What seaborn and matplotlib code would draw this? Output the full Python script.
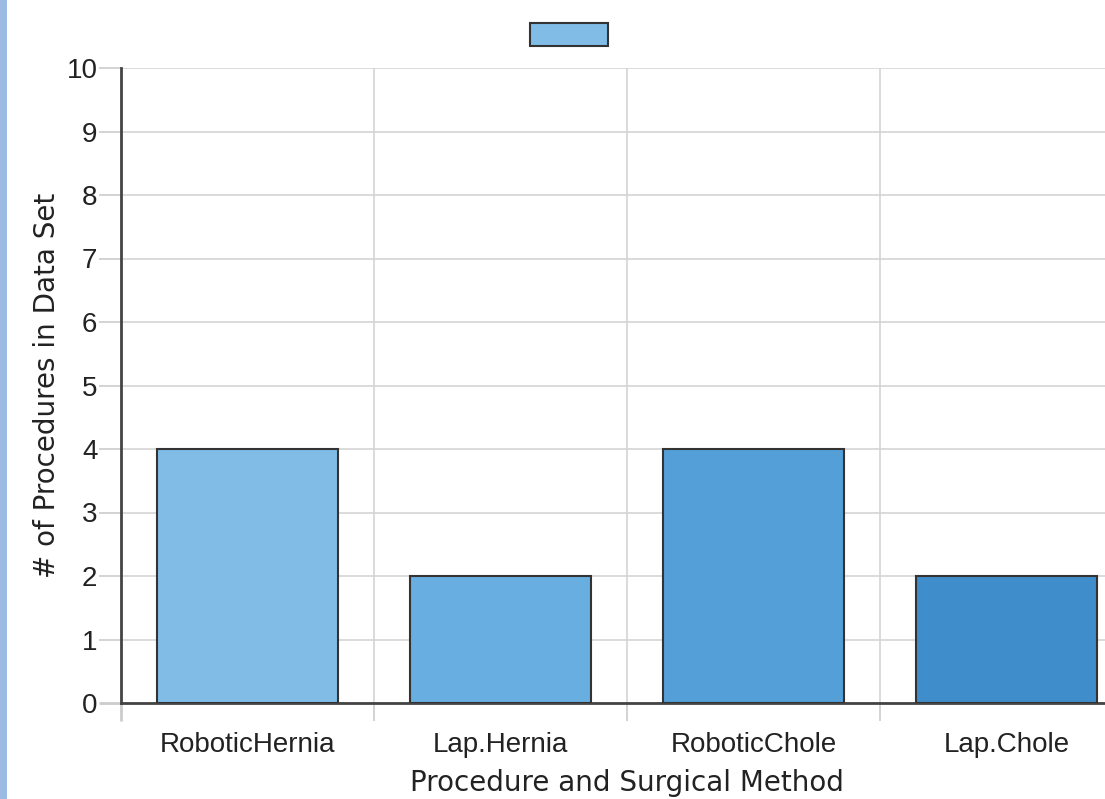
import matplotlib
matplotlib.use("Agg")
import matplotlib.pyplot as plt
import matplotlib.patches as mpatches
import seaborn as sns
import pandas as pd

procedures = ["RoboticHernia", "Lap.Hernia", "RoboticChole", "Lap.Chole"]
counts = [4, 2, 4, 2]
bar_colors = ["#80bce6", "#68aee0", "#559fd8", "#3f8dca"]

df = pd.DataFrame({"Procedure": procedures, "Count": counts})

sns.set_style("white")
plt.rcParams["font.family"] = ["Liberation Sans", "DejaVu Sans"]

fig = plt.figure(figsize=(11.05, 7.99), dpi=100)
ax = fig.add_axes([121 / 1105, 96 / 799, 1012 / 1105, 635 / 799])

sns.barplot(data=df, x="Procedure", y="Count", hue="Procedure", palette=bar_colors,
            saturation=1, width=0.715, edgecolor="#333333", linewidth=1.5,
            legend=False, ax=ax, zorder=3)

ax.set_xlim(-0.5, 3.5)
ax.set_ylim(0, 10)
ax.set_yticks(range(0, 11))

# grid: horizontal at every integer, vertical at category boundaries
ax.set_xticks([-0.5, 0.5, 1.5, 2.5, 3.5], minor=True)
ax.grid(False)
ax.yaxis.grid(True, color="#d4d4d4", lw=1.2, zorder=0)
ax.xaxis.grid(True, which="minor", color="#d4d4d4", lw=1.2, zorder=0)
ax.set_axisbelow(True)

ax.tick_params(axis="x", which="major", bottom=False, length=0, pad=21, labelsize=20,
               labelcolor="#222222")
ax.tick_params(axis="x", which="minor", bottom=True, length=13, width=1.2,
               color="#cccccc", direction="out")
ax.tick_params(axis="y", left=True, length=16, width=1.2, color="#cccccc",
               direction="out", pad=1, labelsize=20, labelcolor="#222222")

for s in ["top", "right"]:
    ax.spines[s].set_visible(False)
for s in ["left", "bottom"]:
    ax.spines[s].set_color("#444444")
    ax.spines[s].set_linewidth(2)

ax.set_xlabel("Procedure and Surgical Method", family="DejaVu Sans", fontsize=20,
              labelpad=8, color="#222222")
ax.set_ylabel("# of Procedures in Data Set", family="DejaVu Sans", fontsize=20,
              labelpad=4, color="#222222")

# legend with a single swatch and no text
handle = mpatches.Patch(facecolor=bar_colors[0], edgecolor="#333333", linewidth=1.5)
fig.legend([handle], [""], loc="center", bbox_to_anchor=(569 / 1105, 1 - 34.5 / 799),
           frameon=False, fontsize=14, handlelength=4, handleheight=1.4,
           handletextpad=0, borderpad=0)

# thin blue strip on the left edge of the page
fig.add_artist(mpatches.Rectangle((0, 0), 7 / 1105, 1, transform=fig.transFigure,
                                  facecolor="#9bbbe3", edgecolor="none"))

# the ticks at the origin are drawn dark like the axis lines
fig.canvas.draw()
ax.xaxis.get_minor_ticks()[0].tick1line.set_color("#444444")
ax.xaxis.get_minor_ticks()[0].tick1line.set_markeredgewidth(2)
ax.yaxis.get_major_ticks()[0].tick1line.set_color("#444444")
ax.yaxis.get_major_ticks()[0].tick1line.set_markeredgewidth(2)

fig.savefig("out.png", dpi=100)
